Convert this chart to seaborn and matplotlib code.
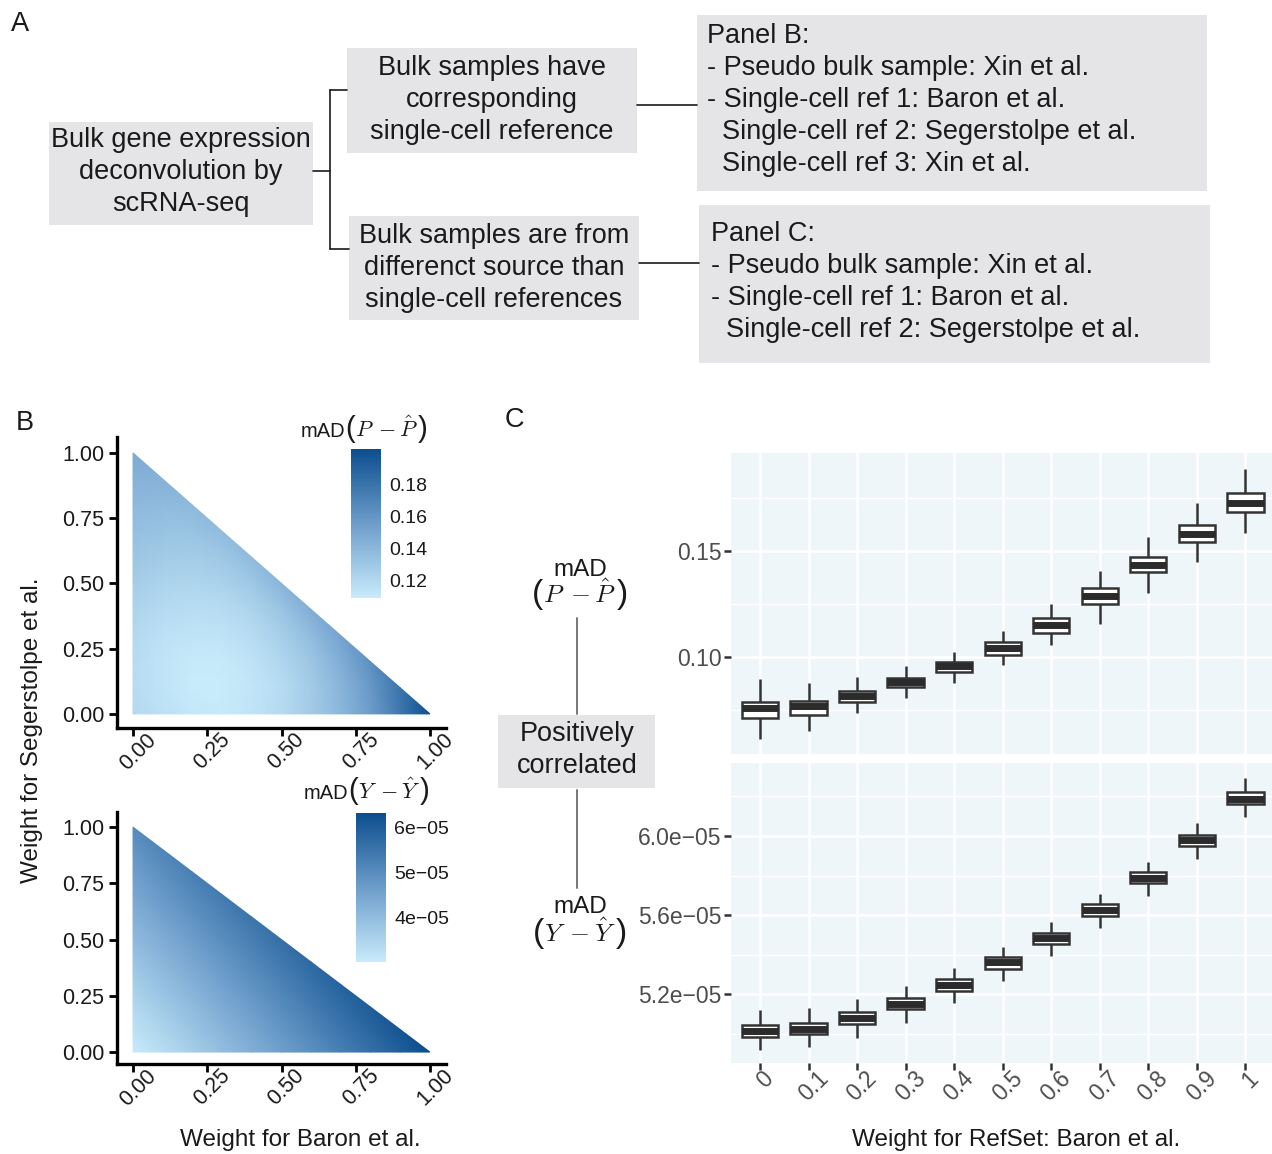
import numpy as np
import pandas as pd
import matplotlib
matplotlib.use("Agg")
import matplotlib.pyplot as plt
import matplotlib.tri as mtri
from matplotlib.colors import LinearSegmentedColormap
from matplotlib.patches import Rectangle
from matplotlib.lines import Line2D
from matplotlib.transforms import ScaledTranslation
from matplotlib.ticker import MultipleLocator, AutoMinorLocator, FuncFormatter
import seaborn as sns

W, H = 1272, 1154

# ---- panel B data: mAD on a 0.1 grid, rows = weight for Segerstolpe, cols = weight for Baron
weight_grid = [0.0, 0.1, 0.2, 0.3, 0.4, 0.5, 0.6, 0.7, 0.8, 0.9, 1.0]
mad_p_rows = [
    [0.120, 0.115, 0.111, 0.110, 0.113, 0.119, 0.128, 0.140, 0.156, 0.177, 0.202],
    [0.118, 0.113, 0.109, 0.109, 0.112, 0.118, 0.128, 0.141, 0.158, 0.179],
    [0.118, 0.113, 0.110, 0.110, 0.114, 0.121, 0.131, 0.145, 0.163],
    [0.120, 0.115, 0.113, 0.114, 0.118, 0.126, 0.137, 0.152],
    [0.123, 0.119, 0.117, 0.118, 0.123, 0.132, 0.145],
    [0.127, 0.123, 0.122, 0.124, 0.130, 0.141],
    [0.131, 0.128, 0.127, 0.130, 0.138],
    [0.135, 0.133, 0.133, 0.137],
    [0.139, 0.138, 0.139],
    [0.143, 0.143],
    [0.147],
]
# in units of 1e-05
mad_y_rows = [
    [3.00, 3.30, 3.62, 3.95, 4.28, 4.62, 4.95, 5.28, 5.62, 5.96, 6.33],
    [3.20, 3.50, 3.82, 4.15, 4.48, 4.82, 5.15, 5.48, 5.82, 6.15],
    [3.40, 3.71, 4.03, 4.36, 4.69, 5.02, 5.35, 5.68, 6.01],
    [3.60, 3.92, 4.24, 4.57, 4.90, 5.22, 5.55, 5.88],
    [3.81, 4.13, 4.45, 4.78, 5.10, 5.42, 5.75],
    [4.02, 4.34, 4.66, 4.98, 5.30, 5.62],
    [4.22, 4.55, 4.87, 5.19, 5.50],
    [4.43, 4.76, 5.08, 5.40],
    [4.63, 4.96, 5.28],
    [4.83, 5.16],
    [5.03],
]

# ---- panel C data: box summaries per weight for Baron
ref_weights = ["0", "0.1", "0.2", "0.3", "0.4", "0.5", "0.6", "0.7", "0.8", "0.9", "1"]
p_lo  = [0.0612, 0.0652, 0.0737, 0.0808, 0.0879, 0.0962, 0.1058, 0.1154, 0.1303, 0.1450, 0.1586]
p_q1  = [0.0711, 0.0725, 0.0786, 0.0858, 0.0929, 0.1008, 0.1113, 0.1251, 0.1400, 0.1544, 0.1683]
p_med = [0.0761, 0.0770, 0.0816, 0.0882, 0.0956, 0.1042, 0.1150, 0.1288, 0.1434, 0.1580, 0.1728]
p_q3  = [0.0786, 0.0794, 0.0841, 0.0902, 0.0978, 0.1071, 0.1184, 0.1327, 0.1472, 0.1623, 0.1775]
p_hi  = [0.0896, 0.0877, 0.0906, 0.0958, 0.1024, 0.1123, 0.1250, 0.1406, 0.1566, 0.1728, 0.1887]
# in units of 1e-05
y_lo  = [4.917, 4.930, 4.979, 5.055, 5.156, 5.266, 5.394, 5.536, 5.698, 5.885, 6.095]
y_q1  = [4.984, 4.996, 5.048, 5.123, 5.215, 5.327, 5.453, 5.596, 5.762, 5.948, 6.162]
y_med = [5.013, 5.021, 5.080, 5.151, 5.244, 5.361, 5.484, 5.625, 5.789, 5.978, 6.187]
y_q3  = [5.042, 5.053, 5.107, 5.181, 5.276, 5.386, 5.510, 5.654, 5.818, 6.007, 6.223]
y_hi  = [5.119, 5.129, 5.175, 5.241, 5.332, 5.437, 5.565, 5.706, 5.868, 6.064, 6.292]


def fx(x):
    return x / W


def fy(y):
    return 1 - y / H


def ax_rect(left, top, right, bottom):
    return [fx(left), fy(bottom), (right - left) / W, (bottom - top) / H]


sns.set_theme(style="ticks")
plt.rcParams['font.family'] = ['Liberation Sans', 'DejaVu Sans']

fig = plt.figure(figsize=(W / 100, H / 100), dpi=100)
renderer = fig.canvas.get_renderer()

GRAY_BOX = '#e5e5e7'
TXT = '#1a1a1a'


def chain(x, y, parts, ha='left'):
    """place text pieces side by side on one baseline (pixel coords)"""
    texts = []
    for s, size in parts:
        texts.append(fig.text(0, fy(y), s, fontsize=size, va='baseline', ha='left',
                              math_fontfamily='cm', color=TXT))
    widths = [t.get_window_extent(renderer).width for t in texts]
    total = sum(widths)
    start = {'left': x, 'right': x - total, 'center': x - total / 2}[ha]
    for t, w in zip(texts, widths):
        t.set_x(fx(start))
        start += w


def mad_expr(sym, psize, msize):
    return [("(", psize), (r"$%s\;-\hat{%s}$" % (sym, sym), msize), (")", psize)]


# ---------------- panel A ----------------
def box(x0, y0, x1, y1, txt, tx, ty, ha='center'):
    fig.add_artist(Rectangle((fx(x0), fy(y1)), (x1 - x0) / W, (y1 - y0) / H,
                             transform=fig.transFigure, facecolor=GRAY_BOX, edgecolor='none'))
    fig.text(fx(tx), fy(ty), txt, ha=ha, va='center', multialignment=ha,
             fontsize=19.5, color=TXT, linespacing=1.3)


def fline(xs, ys, color=TXT, lw=1.2):
    fig.add_artist(Line2D([fx(x) for x in xs], [fy(y) for y in ys], transform=fig.transFigure,
                          color=color, lw=lw))


box(49, 122, 313, 225, "Bulk gene expression\ndeconvolution by\nscRNA-seq", 181, 172)
box(347, 48, 637, 153, "Bulk samples have\ncorresponding\nsingle-cell reference", 492, 100)
box(349, 216, 639, 320, "Bulk samples are from\ndifferenct source than\nsingle-cell references", 494, 268)
box(697, 15, 1207, 191, "Panel B:\n- Pseudo bulk sample: Xin et al.\n- Single-cell ref 1: Baron et al.\n"
    "  Single-cell ref 2: Segerstolpe et al.\n  Single-cell ref 3: Xin et al.", 707, 100, ha='left')
box(699, 205, 1210, 363, "Panel C:\n- Pseudo bulk sample: Xin et al.\n- Single-cell ref 1: Baron et al.\n"
    "  Single-cell ref 2: Segerstolpe et al.", 711, 282, ha='left')

fline([313, 330], [171, 171])
fline([330, 330], [90, 249])
fline([330, 347], [90, 90])
fline([330, 349], [249, 249])
fline([637, 697], [105, 105])
fline([639, 699], [263, 263])

for letter, x, y in [("A", 20, 24), ("B", 25, 423), ("C", 514, 420)]:
    fig.text(fx(x), fy(y), letter, ha='center', va='center', fontsize=19.5, color=TXT)

# ---------------- panel B ----------------
cmap = LinearSegmentedColormap.from_list('blues_gg', ['#c8ebfb', '#6d9dcb', '#0b4e8d'])
shift_lbl = ScaledTranslation(5 / 100, 7 / 100, fig.dpi_scale_trans)


def triangle_heat(ax, rows, scale=1.0):
    n = len(weight_grid)
    idx = {}
    xs, ys, vs = [], [], []
    for j, row in enumerate(rows):
        for i, v in enumerate(row):
            idx[(i, j)] = len(xs)
            xs.append(weight_grid[i])
            ys.append(weight_grid[j])
            vs.append(v * scale)
    tris = []
    for j in range(n - 1):
        for i in range(n - 1 - j):
            tris.append([idx[(i, j)], idx[(i + 1, j)], idx[(i, j + 1)]])
            if i + j <= n - 3:
                tris.append([idx[(i + 1, j)], idx[(i + 1, j + 1)], idx[(i, j + 1)]])
    tri = mtri.Triangulation(xs, ys, tris)
    vs = np.array(vs)
    m = ax.tripcolor(tri, vs, shading='gouraud', cmap=cmap, vmin=vs.min(), vmax=vs.max())
    ax.set_xticks([0, 0.25, 0.5, 0.75, 1.0])
    ax.set_yticks([0, 0.25, 0.5, 0.75, 1.0])
    ax.xaxis.set_major_formatter(FuncFormatter(lambda v, p: f"{v:.2f}"))
    ax.yaxis.set_major_formatter(FuncFormatter(lambda v, p: f"{v:.2f}"))
    for s in ['top', 'right']:
        ax.spines[s].set_visible(False)
    for s in ['left', 'bottom']:
        ax.spines[s].set_linewidth(2.4)
        ax.spines[s].set_color('black')
    ax.tick_params(direction='out', length=6, width=2.0, color='black', labelsize=15.5,
                   labelcolor=TXT, pad=3)
    ax.tick_params(axis='x', pad=0)
    for lbl in ax.get_xticklabels():
        lbl.set_rotation(45)
        lbl.set_ha('center')
        lbl.set_transform(lbl.get_transform() + shift_lbl)
    ax.set_facecolor('white')
    return m


ax_b1 = fig.add_axes(ax_rect(117, 437, 446, 728))
m1 = triangle_heat(ax_b1, mad_p_rows)
ax_b1.set_xlim(-0.054, 1.054)
ax_b1.set_ylim(-0.054, 1.061)

ax_b2 = fig.add_axes(ax_rect(117, 812, 446, 1064))
m2 = triangle_heat(ax_b2, mad_y_rows, scale=1e-5)
ax_b2.set_xlim(-0.054, 1.054)
ax_b2.set_ylim(-0.053, 1.067)


def colorbar(m, rect, ticks, labels):
    cax = fig.add_axes(rect)
    cb = fig.colorbar(m, cax=cax)
    cb.outline.set_visible(False)
    cb.set_ticks(ticks)
    cb.set_ticklabels(labels)
    cax.tick_params(direction='in', length=5, width=1, color='white', labelsize=14,
                    labelcolor=TXT, pad=6)
    return cb


colorbar(m1, ax_rect(351, 449, 381, 598), [0.12, 0.14, 0.16, 0.18], ["0.12", "0.14", "0.16", "0.18"])
colorbar(m2, ax_rect(356, 813, 386, 962), [4e-5, 5e-5, 6e-5], ["4e\u221205", "5e\u221205", "6e\u221205"])

chain(428, 437, [("mAD", 14.5)] + mad_expr("P", 21, 16), ha='right')
chain(430, 799, [("mAD", 14.5)] + mad_expr("Y", 21, 16), ha='right')

fig.text(fx(32), fy(730), "Weight for Segerstolpe et al.", rotation=90, ha='center', va='center',
         fontsize=17.5, color=TXT)
fig.text(fx(300), fy(1140), "Weight for Baron et al.", ha='center', va='center',
         fontsize=17.5, color=TXT)

# ---------------- middle diagram ----------------
fig.text(fx(580), fy(570), "mAD", ha='center', va='center', fontsize=17.5, color=TXT)
chain(580, 603, mad_expr("P", 24, 18.5), ha='center')
fline([577, 577], [618, 714], color='#777777', lw=1.4)
fig.add_artist(Rectangle((fx(498), fy(788)), 157 / W, 73 / H, transform=fig.transFigure,
                         facecolor=GRAY_BOX, edgecolor='none'))
fig.text(fx(577), fy(750), "Positively\ncorrelated", ha='center', va='center', fontsize=19.5,
         color=TXT, linespacing=1.3)
fline([577, 577], [790, 888], color='#777777', lw=1.4)
fig.text(fx(580), fy(907), "mAD", ha='center', va='center', fontsize=17.5, color=TXT)
chain(580, 942, mad_expr("Y", 24, 18.5), ha='center')

# ---------------- panel C ----------------
def long_df(lo, q1, med, q3, hi, scale=1.0):
    recs = []
    for k, w in enumerate(ref_weights):
        for v in (lo[k], q1[k], med[k], q3[k], hi[k]):
            recs.append({'weight': w, 'value': v * scale})
    return pd.DataFrame(recs)


df_p = long_df(p_lo, p_q1, p_med, p_q3, p_hi)
df_y = long_df(y_lo, y_q1, y_med, y_q3, y_hi, scale=1e-5)

ax_c1 = fig.add_axes(ax_rect(731, 453, 1272, 754))
ax_c2 = fig.add_axes(ax_rect(731, 763, 1272, 1063))

for ax, df in [(ax_c1, df_p), (ax_c2, df_y)]:
    ax.set_facecolor('#eef6fa')
    sns.boxplot(data=df, x='weight', y='value', order=ref_weights, ax=ax, whis=np.inf,
                width=0.75, color='white', saturation=1, linecolor='#333333', linewidth=1.8,
                showcaps=False, medianprops=dict(linewidth=5, color='#2b2b2b'))
    for s in ax.spines.values():
        s.set_visible(False)
    ax.set_xlim(-0.6, 10.55)
    ax.set_xlabel('')
    ax.set_ylabel('')
    ax.set_axisbelow(True)
    ax.grid(True, which='major', color='white', lw=1.8)
    ax.grid(True, which='minor', axis='y', color='white', lw=1.0)
    ax.tick_params(axis='y', which='major', direction='out', length=5, width=1.8, color='#333333',
                   labelsize=16.5, labelcolor='#4d4d4d', pad=2)
    ax.tick_params(axis='y', which='minor', length=0)

ax_c1.set_ylim(0.0542, 0.1962)
ax_c1.yaxis.set_major_locator(MultipleLocator(0.05))
ax_c1.yaxis.set_minor_locator(AutoMinorLocator(2))
ax_c1.yaxis.set_major_formatter(FuncFormatter(lambda v, p: f"{v:.2f}"))
ax_c1.tick_params(axis='x', length=0, labelbottom=False)

ax_c2.set_ylim(4.8507e-5, 6.3696e-5)
ax_c2.yaxis.set_major_locator(MultipleLocator(0.4e-5))
ax_c2.yaxis.set_minor_locator(AutoMinorLocator(2))
ax_c2.yaxis.set_major_formatter(FuncFormatter(lambda v, p: f"{v / 1e-5:.1f}e\u221205"))
ax_c2.tick_params(axis='x', direction='out', length=5, width=1.8, color='#333333',
                  labelsize=16.5, labelcolor='#4d4d4d', pad=0)
shift_c = ScaledTranslation(5 / 100, 3 / 100, fig.dpi_scale_trans)
for lbl in ax_c2.get_xticklabels():
    lbl.set_rotation(45)
    lbl.set_ha('center')
    lbl.set_transform(lbl.get_transform() + shift_c)

fig.text(fx(1016), fy(1140), "Weight for RefSet: Baron et al.", ha='center', va='center',
         fontsize=17.5, color=TXT)

fig.savefig('out.png', dpi=100)
